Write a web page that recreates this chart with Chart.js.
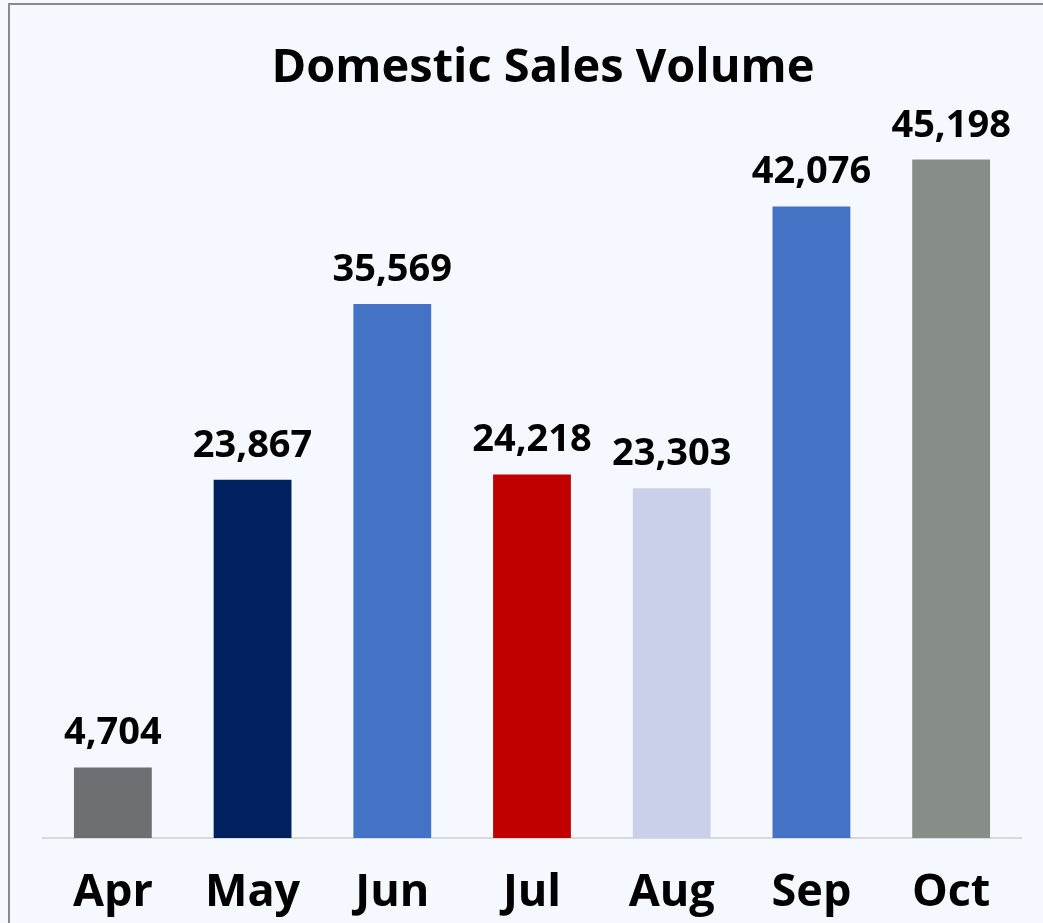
<!DOCTYPE html>
<html>
<head>
<meta charset="utf-8">
<script src="https://cdn.jsdelivr.net/npm/chart.js@4/dist/chart.umd.min.js"></script>
<style>
  html, body { margin: 0; padding: 0; background: #F5F8FE; overflow: hidden; }
  #wrap { position: relative; width: 1043px; height: 923px; }
  #frame { position: absolute; left: 8px; top: 3px; width: 1100px; height: 1000px; border: 2px solid #8a8a8a; box-sizing: border-box; }
  canvas { position: absolute; left: 0; top: 0; }
</style>
</head>
<body>
<div id="wrap">
  <div id="frame"></div>
  <canvas id="c" width="1043" height="923"></canvas>
</div>
<script>
const months = ["Apr", "May", "Jun", "Jul", "Aug", "Sep", "Oct"];
const salesVolume = [4704, 23867, 35569, 24218, 23303, 42076, 45198];
const barColors = ["#6D6E72", "#00205F", "#4472C4", "#C00000", "#CBD0EA", "#4472C4", "#878E87"];
const titleText = "Domestic Sales Volume";

const valueLabels = {
  id: "valueLabels",
  afterDatasetsDraw(chart) {
    const ctx = chart.ctx;
    const meta = chart.getDatasetMeta(0);
    ctx.save();
    ctx.font = "bold 38px 'Open Sans'";
    ctx.fillStyle = "#000000";
    ctx.textAlign = "center";
    ctx.textBaseline = "alphabetic";
    meta.data.forEach((bar, i) => {
      ctx.fillText(salesVolume[i].toLocaleString("en-US"), bar.x, bar.y - 23);
    });
    ctx.restore();
  }
};

const chartTitle = {
  id: "chartTitle",
  afterDraw(chart) {
    const ctx = chart.ctx;
    ctx.save();
    ctx.font = "bold 47px 'Open Sans'";
    ctx.fillStyle = "#000000";
    ctx.textAlign = "center";
    ctx.textBaseline = "middle";
    ctx.fillText(titleText, 543, 69);
    ctx.restore();
  }
};

new Chart(document.getElementById("c"), {
  type: "bar",
  data: {
    labels: months,
    datasets: [{
      data: salesVolume,
      backgroundColor: barColors,
      borderWidth: 0,
      categoryPercentage: 1.0,
      barPercentage: 0.557
    }]
  },
  options: {
    responsive: false,
    animation: false,
    layout: { padding: { left: 43, right: 22, top: 95, bottom: 0 } },
    plugins: {
      legend: { display: false },
      tooltip: { enabled: false },
      title: { display: false }
    },
    scales: {
      x: {
        grid: { display: false },
        border: { display: true, color: "#D9D9D9", width: 2 },
        ticks: {
          color: "#000000",
          font: { family: "'Open Sans'", size: 45, weight: "bold" },
          padding: 20
        },
        afterFit(scale) { scale.height = 85; }
      },
      y: {
        display: false,
        min: 0,
        max: 49500
      }
    }
  },
  plugins: [valueLabels, chartTitle]
});
</script>
</body>
</html>
